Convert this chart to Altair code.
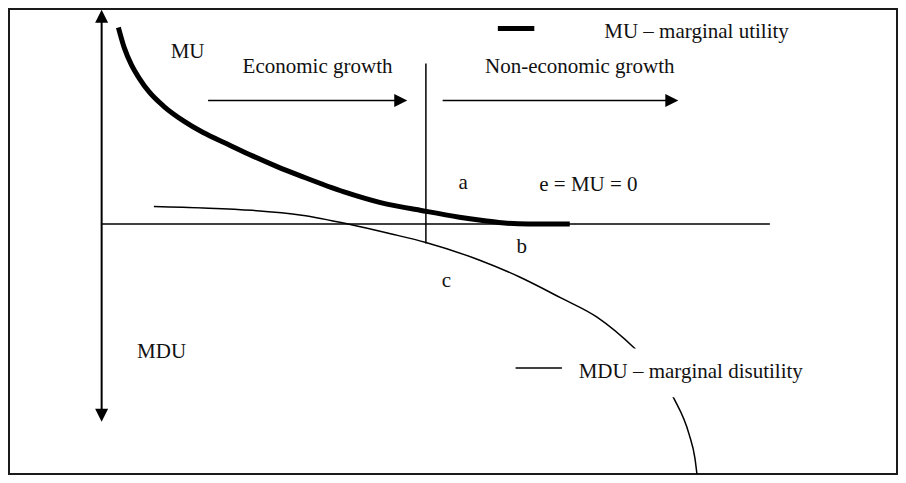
import altair as alt
import pandas as pd

# Diagram coordinates: origin at the axes' crossing, x to the right, y upward
mu_x = [17, 23, 30, 38, 48, 63, 83, 103, 128, 153, 178, 203, 246, 283, 329, 363, 383, 403, 433, 475]
mu_y = [202, 181, 164, 150, 136, 121, 106, 94, 82, 70, 59, 49, 33, 22, 13, 7, 4, 1.5, 0, 0]

mdu_x = [53, 103, 153, 203, 250, 293, 329, 383, 423, 466, 503, 541, 563, 581, 596, 602, 604]
mdu_y = [18, 16.5, 14, 9, 0, -10, -19, -37, -54, -76, -96, -128, -151, -180, -216, -241, -257]

# straight segments: name, x, y, x2, y2, width
seg_name = ["h_axis", "v_axis", "divider", "econ_arrow", "nonecon_arrow", "leg_mu", "leg_mdu"]
seg_x = [0, 0, 329, 108, 346, 402, 420]
seg_y = [0, 214, 165, 127, 127, 201, -148]
seg_x2 = [678, 0, 329, 304, 580, 439, 467]
seg_y2 = [0, -197, -20, 127, 127, 201, -148]
seg_w = [1.5, 2, 1.5, 1.5, 1.5, 5, 1.5]

# arrow heads
head_x = [303.5, 578.5, 0, 0]
head_y = [127, 127, 213.5, -196.5]
head_shape = ["M-1,-1L1,0L-1,1Z", "M-1,-1L1,0L-1,1Z", "M-1,1L0,-1L1,1Z", "M-1,-1L0,1L1,-1Z"]

# labels
lab_text = ["MU", "Economic growth", "Non-economic growth", "a", "e = MU = 0", "b", "c",
            "MDU", "MU \u2013 marginal utility", "MDU \u2013 marginal disutility"]
lab_x = [70, 143, 389, 362, 444, 421, 345, 36, 510, 484]
lab_y = [171, 155, 155, 36, 34, -30, -65, -138, 191, -158]

W, H = 888, 465
xs = alt.Scale(domain=[-94, 807], nice=False, zero=False)
ys = alt.Scale(domain=[-257, 221], nice=False, zero=False)
X = lambda f: alt.X(f, type="quantitative", scale=xs, axis=None)
Y = lambda f: alt.Y(f, type="quantitative", scale=ys, axis=None)

mu_df = pd.DataFrame({"x": mu_x, "y": mu_y})
mdu_df = pd.DataFrame({"x": mdu_x, "y": mdu_y})
seg_df = pd.DataFrame({"name": seg_name, "x": seg_x, "y": seg_y, "x2": seg_x2, "y2": seg_y2, "w": seg_w})
lab_df = pd.DataFrame({"t": lab_text, "x": lab_x, "y": lab_y})

mdu_line = alt.Chart(mdu_df).mark_line(color="black", strokeWidth=1.5, interpolate="monotone").encode(
    x=X("x"), y=Y("y"))
mu_line = alt.Chart(mu_df).mark_line(color="black", strokeWidth=5, interpolate="monotone").encode(
    x=X("x"), y=Y("y"))

box_df = pd.DataFrame({"x": [408], "x2": [703], "y": [-128], "y2": [-178]})
white_box = alt.Chart(box_df).mark_rect(color="white").encode(
    x=X("x"), x2="x2", y=Y("y"), y2="y2")

segs = []
for wv in sorted(set(seg_w)):
    segs.append(alt.Chart(seg_df[seg_df.w == wv]).mark_rule(color="black", strokeWidth=wv).encode(
        x=X("x"), x2="x2", y=Y("y"), y2="y2"))

heads = []
for i in range(len(head_x)):
    hd = pd.DataFrame({"x": [head_x[i]], "y": [head_y[i]]})
    heads.append(alt.Chart(hd).mark_point(shape=head_shape[i], filled=True, color="black",
                                          opacity=1, size=169, strokeWidth=0).encode(
        x=X("x"), y=Y("y")))

labels = alt.Chart(lab_df).mark_text(font="Liberation Serif, Times New Roman, serif",
                                     fontSize=21, align="left",
                                     baseline="alphabetic", color="#111").encode(
    x=X("x"), y=Y("y"), text="t:N")

chart = alt.layer(mdu_line, mu_line, white_box, *segs, *heads, labels).properties(
    width=W, height=H, padding=1, autosize="none"
).configure_view(stroke="#1a1a1a", strokeWidth=2)

chart.save("out.html", embed_options={"renderer": "svg", "actions": False})
